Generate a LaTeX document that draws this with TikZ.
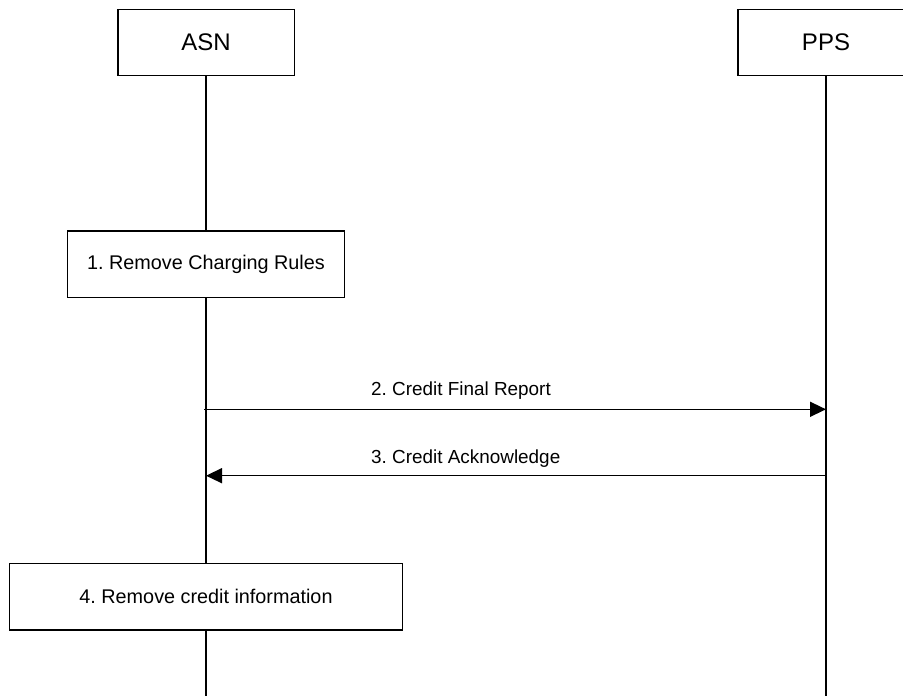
\documentclass[tikz,border=0pt]{standalone}
\usepackage{fontspec}
\setmainfont{Liberation Sans}
\usetikzlibrary{arrows.meta}

\tikzset{
  actor/.style={draw, fill=white, line width=1.5pt, inner sep=0pt,
    minimum width=176.5pt, minimum height=66pt,
    font=\fontsize{24}{28}\selectfont},
  stepbox/.style={draw, fill=white, line width=1.5pt, inner sep=0pt,
    minimum height=66.7pt, font=\fontsize{19.8}{23}\selectfont},
  lifeline/.style={line width=1.5pt},
  msg/.style={line width=1.5pt, -{Triangle[length=16pt,width=15pt]}},
  msglabel/.style={inner sep=0pt, anchor=base west, font=\fontsize{18.9}{22}\selectfont},
}

\begin{document}
\frenchspacing
\begin{tikzpicture}[x=1pt, y=-1pt]
  \useasboundingbox (0,0) rectangle (903,696);
  \clip (0,0) rectangle (903,696);

  % lifeline ends
  \coordinate (asnEnd) at (206,700);
  \coordinate (ppsEnd) at (826,700);

  % actors
  \node[actor] (asn) at (206,42.5) {ASN};
  \node[actor] (pps) at (826,42.5) {PPS};

  % lifelines, drawn behind the step boxes
  \draw[lifeline] (asn.south) -- (asnEnd);
  \draw[lifeline] (pps.south) -- (ppsEnd);

  % local steps on the ASN side
  \node[stepbox, minimum width=276.7pt] (step1) at (206,264.3) {1. Remove Charging Rules};
  \node[stepbox, minimum width=393pt] (step4) at (206,596.7) {4. Remove credit information};

  % message anchor points on the lifelines
  \coordinate (asnM2) at (204,409.3);
  \coordinate (ppsM2) at (826,409.3);
  \coordinate (ppsM3) at (826,475.7);
  \coordinate (asnM3) at (206,475.7);

  % messages
  \draw[msg] (asnM2) -- (ppsM2);
  \node[msglabel] (lbl2) at (371,395.7) {2. Credit Final Report};
  \draw[msg] (ppsM3) -- (asnM3);
  \node[msglabel] (lbl3) at (371,463.7) {3. Credit Acknowledge};
\end{tikzpicture}
\end{document}
